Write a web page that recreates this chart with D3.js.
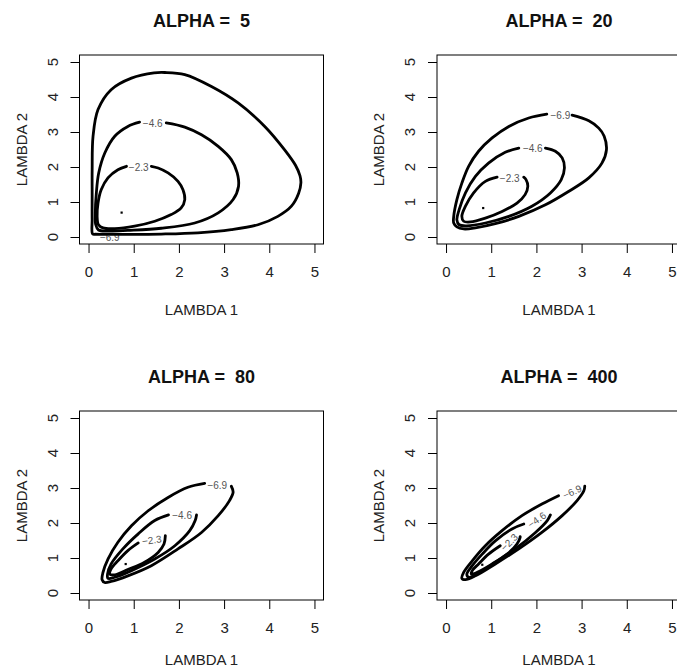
<!DOCTYPE html>
<html><head><meta charset="utf-8">
<script src="https://cdn.jsdelivr.net/npm/d3@7"></script>
<style>
html,body{margin:0;padding:0;background:#fff;}
text{font-family:"Liberation Sans",Arial,Helvetica,sans-serif;}
</style></head>
<body><svg id="chart" width="677" height="670"></svg>
<script>
// ---------- data ----------
const alphas = [5, 20, 80, 400];
const levelLabels = ["\u22126.9", "\u22124.6", "\u22122.3"];
const xTicks = [0, 1, 2, 3, 4, 5];
const yTicks = [0, 1, 2, 3, 4, 5];

// contour traces [lambda1, lambda2] for each alpha
const a5_69 = [[0.09,0.09],[0.08,0.5],[0.08,1.2],[0.08,1.92],[0.10,2.88],[0.21,3.64],[0.50,4.21],[0.95,4.54],[1.45,4.69],[1.69,4.70],[2.13,4.64],[2.72,4.30],[3.31,3.83],[3.90,3.16],[4.34,2.49],[4.58,2.05],[4.68,1.75],[4.70,1.55],[4.65,1.25],[4.49,0.88],[4.19,0.59],[3.75,0.35],[3.16,0.21],[2.42,0.12],[1.61,0.085],[0.87,0.075],[0.36,0.075],[0.15,0.078]];
const a5_46 = [[1.13,3.28],[0.87,3.16],[0.58,2.88],[0.36,2.40],[0.225,1.83],[0.173,1.26],[0.15,0.69],[0.16,0.35],[0.22,0.2],[0.43,0.17],[0.87,0.19],[1.61,0.25],[2.35,0.40],[2.87,0.69],[3.20,1.07],[3.32,1.45],[3.29,1.83],[3.16,2.21],[2.87,2.59],[2.50,2.92],[2.13,3.14],[1.72,3.26]];
const a5_23 = [[0.84,2.02],[0.65,1.92],[0.43,1.69],[0.28,1.35],[0.21,0.97],[0.19,0.59],[0.22,0.35],[0.32,0.26],[0.58,0.24],[1.02,0.31],[1.465,0.45],[1.83,0.64],[2.05,0.83],[2.13,1.07],[2.09,1.35],[1.98,1.59],[1.76,1.83],[1.54,1.97],[1.39,2.02]];

const a20_69 = [[2.23,3.51],[1.83,3.40],[1.39,3.16],[1.02,2.83],[0.72,2.45],[0.50,2.02],[0.35,1.54],[0.24,1.07],[0.17,0.59],[0.17,0.40],[0.24,0.29],[0.39,0.23],[0.65,0.26],[1.09,0.38],[1.61,0.59],[2.20,0.92],[2.71,1.30],[3.16,1.69],[3.45,2.11],[3.55,2.49],[3.50,2.88],[3.38,3.11],[3.16,3.32],[2.79,3.48]];
const a20_46 = [[1.61,2.54],[1.31,2.42],[0.94,2.11],[0.65,1.73],[0.43,1.26],[0.29,0.78],[0.24,0.49],[0.29,0.35],[0.46,0.32],[0.87,0.40],[1.39,0.59],[1.90,0.88],[2.31,1.26],[2.55,1.64],[2.62,1.97],[2.57,2.26],[2.42,2.45],[2.20,2.54]];
const a20_23 = [[1.13,1.71],[0.87,1.59],[0.61,1.26],[0.43,0.88],[0.35,0.59],[0.39,0.45],[0.54,0.43],[0.87,0.54],[1.24,0.73],[1.57,0.97],[1.75,1.21],[1.81,1.45],[1.77,1.64],[1.72,1.71]];

const a80_69 = [[2.57,3.13],[2.20,3.02],[1.76,2.73],[1.32,2.35],[0.95,1.92],[0.65,1.45],[0.43,0.97],[0.32,0.59],[0.30,0.38],[0.36,0.30],[0.50,0.33],[0.87,0.49],[1.39,0.78],[1.98,1.26],[2.50,1.73],[2.87,2.21],[3.12,2.64],[3.20,2.88],[3.16,3.05]];
const a80_46 = [[1.77,2.23],[1.465,2.07],[1.10,1.69],[0.76,1.26],[0.50,0.83],[0.42,0.54],[0.43,0.42],[0.58,0.45],[0.95,0.64],[1.465,0.97],[1.91,1.35],[2.24,1.78],[2.36,2.07],[2.39,2.23]];
const a80_23 = [[1.10,1.43],[0.87,1.21],[0.65,0.92],[0.50,0.69],[0.47,0.54],[0.58,0.52],[0.87,0.67],[1.24,0.88],[1.54,1.16],[1.67,1.40],[1.70,1.64]];

const a400_69 = [[2.49,2.78],[2.12,2.54],[1.68,2.21],[1.24,1.78],[0.87,1.35],[0.58,0.92],[0.39,0.59],[0.35,0.42],[0.43,0.38],[0.65,0.49],[1.09,0.83],[1.61,1.26],[2.12,1.73],[2.57,2.21],[2.90,2.64],[3.05,2.92],[3.07,3.05]];
const a400_46 = [[1.72,1.97],[1.46,1.83],[1.09,1.49],[0.80,1.11],[0.58,0.78],[0.46,0.54],[0.50,0.45],[0.69,0.54],[1.09,0.88],[1.53,1.26],[1.98,1.73],[2.24,2.07],[2.31,2.23]];
const a400_23 = [[1.20,1.35],[0.94,1.11],[0.72,0.83],[0.58,0.64],[0.56,0.54],[0.69,0.59],[1.02,0.83],[1.35,1.11],[1.57,1.40],[1.64,1.59],[1.64,1.61]];

const contours = [[a5_69, a5_46, a5_23], [a20_69, a20_46, a20_23], [a80_69, a80_46, a80_23], [a400_69, a400_46, a400_23]];
const closedFlags = [[true,false,false],[false,false,false],[false,false,false],[false,false,false]];
const modes = [[0.73,0.70],[0.82,0.83],[0.82,0.83],[0.80,0.81]];

// ---------- layout ----------
const svg = d3.select("#chart");
const boxW = 244, boxH = 189;
const origins = [[79.5,55],[437,55],[79.5,411],[437,411]];
const xTitleOffset = [71, 71, 65, 65];
const labelPos = [
  [[0.47,0.0,0],[1.42,3.24,0],[1.11,2.0,0]],
  [[2.53,3.47,0],[1.92,2.53,0],[1.41,1.67,0]],
  [[2.85,3.07,0],[2.07,2.21,0],[1.40,1.51,-8]],
  [[2.79,2.89,-25],[2.01,2.09,-35],[1.40,1.45,-45]]
];

alphas.forEach((a, i) => {
  const [ox, oy] = origins[i];
  const x = d3.scaleLinear().domain([-0.2, 5.2]).range([ox, ox + boxW]);
  const y = d3.scaleLinear().domain([-0.2, 5.2]).range([oy + boxH, oy]);
  const g = svg.append("g");

  // title
  g.append("text").attr("x", ox + boxW / 2).attr("y", oy - 28.5)
    .attr("text-anchor", "middle").style("white-space", "pre")
    .attr("font-size", 18).attr("font-weight", "bold").attr("fill", "#111")
    .text("ALPHA =  " + a);

  // labels (drawn under lines)
  const lg = g.append("g");
  levelLabels.forEach((t, k) => {
    const p = labelPos[i][k];
    lg.append("text")
      .attr("transform", `translate(${x(p[0])},${y(p[1])}) rotate(${p[2]})`)
      .attr("text-anchor", "middle").attr("dy", "0.35em")
      .attr("font-size", 10).attr("fill", "#555").text(t);
  });

  // contours
  const line = d3.line().x(d => x(d[0])).y(d => y(d[1]));
  contours[i].forEach((pts, k) => {
    line.curve(closedFlags[i][k] ? d3.curveCatmullRomClosed.alpha(0.5) : d3.curveCatmullRom.alpha(0.5));
    g.append("path").datum(pts).attr("d", line)
      .attr("fill", "none").attr("stroke", "#000").attr("stroke-width", 2.8)
      .attr("stroke-linejoin", "round").attr("stroke-linecap", "round");
  });

  // mode point
  g.append("rect").attr("x", x(modes[i][0]) - 1).attr("y", y(modes[i][1]) - 1)
    .attr("width", 2.2).attr("height", 2.2).attr("fill", "#000");

  // box
  g.append("rect").attr("x", ox).attr("y", oy).attr("width", boxW).attr("height", boxH)
    .attr("fill", "none").attr("stroke", "#000").attr("stroke-width", 1);

  // x axis
  const xa = g.append("g").attr("transform", `translate(0,${oy + boxH})`)
    .call(d3.axisBottom(x).tickValues(xTicks).tickSize(9).tickPadding(13).tickFormat(d3.format("d")));
  xa.select(".domain").remove();
  xa.selectAll("text").attr("font-size", 15).attr("fill", "#222").attr("font-family", null);

  // y axis
  const ya = g.append("g").attr("transform", `translate(${ox},0)`)
    .call(d3.axisLeft(y).tickValues(yTicks).tickSize(9).tickFormat(d3.format("d")));
  ya.select(".domain").remove();
  ya.selectAll("text").remove();
  yTicks.forEach(v => {
    g.append("text").attr("transform", `translate(${ox - 22},${y(v)}) rotate(-90)`)
      .attr("text-anchor", "middle").attr("font-size", 15).attr("fill", "#222").text(v);
  });

  // axis titles
  g.append("text").attr("x", ox + boxW / 2).attr("y", oy + boxH + xTitleOffset[i])
    .attr("text-anchor", "middle").attr("font-size", 15).attr("fill", "#222").text("LAMBDA 1");
  g.append("text").attr("transform", `translate(${ox - 53},${oy + boxH / 2}) rotate(-90)`)
    .attr("text-anchor", "middle").attr("font-size", 15).attr("fill", "#222").text("LAMBDA 2");
});
</script></body></html>
